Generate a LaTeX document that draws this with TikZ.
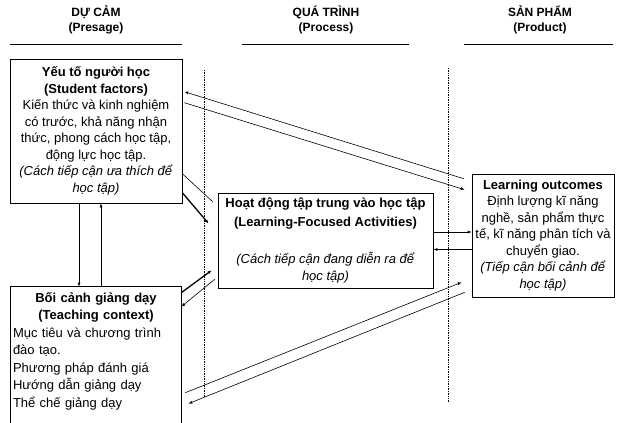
\documentclass[tikz,border=0pt]{standalone}
\usepackage{fontspec}
\setmainfont{Liberation Sans}
\usepackage{tikz}
\usetikzlibrary{positioning, arrows.meta}

\begin{document}
\begin{tikzpicture}[x=1pt, y=-1pt,
        box/.style={draw, line width=0.6pt, inner sep=2pt, align=center, font=\fontsize{13}{16.5}\selectfont},
        head/.style={font=\fontsize{12}{15}\selectfont\bfseries, align=center},
        con/.style={line width=0.6pt, -{Latex[length=4pt, width=3pt]}},
        bold con/.style={con, line width=1.3pt},
        sep/.style={densely dotted, line width=0.7pt}]
        \useasboundingbox (0,0) rectangle (619,423);
        \node[head] (presage) at (96,20) {DỰ CẢM\\(Presage)};
        \node[head] (process) at (326,20) {QUÁ TRÌNH\\(Process)};
        \node[head] (product) at (540,20) {SẢN PHẨM\\(Product)};
        \draw[line width=0.7pt] (10,44) -- (182,44);
        \draw[line width=0.7pt] (242,44) -- (409,44);
        \draw[line width=0.7pt] (464,44) -- (613,44);
        \draw[sep] (204,70) -- (204,397);
        \draw[sep] (448,68) -- (448,402);
        \node[box, minimum width=172pt, minimum height=144pt] (student) at (96,131) {\textbf{Yếu tố người học}\\\textbf{(Student factors)}\\Kiến thức và kinh nghiệm\\có trước, khả năng nhận\\thức, phong cách học tập,\\động lực học tập.\\\textit{(Cách tiếp cận ưa thích để}\\\textit{học tập)}};
        \node[box, draw=none, align=left, text width=166pt, minimum height=128pt, font=\fontsize{13}{17.5}\selectfont] (teaching) at (96,351) {\makebox[166pt][c]{\textbf{Bối cảnh giảng dạy}}\\\makebox[166pt][c]{\textbf{(Teaching context)}}\\Mục tiêu và chương trình\\đào tạo.\\Phương pháp đánh giá\\Hướng dẫn giảng dạy\\Thể chế giảng dạy};
        \draw[line width=0.6pt] (teaching.north west) ++(0,136) -- (teaching.north west) -- (teaching.north east) -- ++(0,136);
        \node[box, minimum width=215pt, minimum height=95pt, font=\fontsize{13}{17}\selectfont] (middle) at (325.5,240.5) {\textbf{Hoạt động tập trung vào học tập}\\[2pt]\textbf{(Learning-Focused Activities)}\\[20pt]\textit{(Cách tiếp cận đang diễn ra để}\\\textit{học tập)}};
        \node[box, minimum width=142pt, minimum height=123pt] (outcome) at (543,235.5) {\textbf{Learning outcomes}\\Định lượng kĩ năng\\nghề, sản phẩm thực\\tế, kĩ năng phân tích và\\chuyển giao.\\\textit{(Tiếp cận bối cảnh để}\\\textit{học tập)}};
        \draw[con] ([xshift=-8pt, yshift=-5pt]outcome.north west) -- ([xshift=2pt, yshift=-33pt]student.north east);
        \draw[con] ([xshift=2pt, yshift=-44pt]student.north east) -- ([xshift=-7pt, yshift=-16pt]outcome.north west);
        \draw[line width=0.6pt] ([yshift=-115pt]student.north east) -- ([xshift=-5pt, yshift=-9pt]middle.north west);
        \draw[bold con] ([yshift=-134pt]student.north east) -- ([xshift=-9pt, yshift=-31pt]middle.north west);
        \draw[bold con] ([yshift=-6pt]teaching.north east) -- ([xshift=-6pt, yshift=18pt]middle.south west);
        \draw[con] ([xshift=-3pt, yshift=9pt]middle.south west) -- ([yshift=-20pt]teaching.north east);
        \draw[con] ([yshift=8.5pt]middle.east) -- ([yshift=3.5pt]outcome.west);
        \draw[con] ([yshift=-14pt]outcome.west) -- ([yshift=-9pt]middle.east);
        \draw[con] ([xshift=4pt, yshift=-106pt]teaching.north east) -- ([xshift=-10pt, yshift=15pt]outcome.south west);
        \draw[con] ([xshift=-7pt, yshift=5pt]outcome.south west) -- ([xshift=7pt, yshift=-117pt]teaching.north east);
        \draw[con] ([xshift=-17pt]student.south) -- ([xshift=-17pt]teaching.north);
        \draw[con] ([xshift=5pt]teaching.north) -- ([xshift=5pt]student.south);
\end{tikzpicture}
\end{document}
